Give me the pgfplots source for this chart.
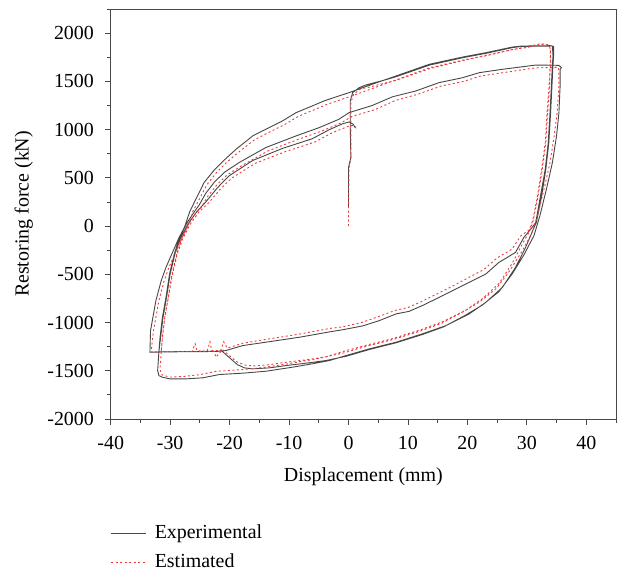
\documentclass[border=0pt]{standalone}
\usepackage{pgfplots}
\pgfplotsset{compat=1.18}
\usepackage{fontspec}
\setmainfont{Liberation Serif}
\definecolor{expcol}{HTML}{474747}
\definecolor{estcol}{HTML}{F03A3A}
\begin{document}
\fontsize{20}{24}\selectfont
\begin{tikzpicture}
\useasboundingbox (0,0) rectangle (619bp,571bp);
\begin{axis}[
  at={(110.7bp,152bp)}, anchor=south west,
  scale only axis, width=505.3bp, height=410bp,
  xmin=-40, xmax=45, ymin=-2000, ymax=2250,
  xtick={-40,-30,...,40}, ytick={-2000,-1500,...,2000},
  minor xtick={-35,-25,...,45}, minor ytick={-1750,-1250,...,2250},
  tick pos=left, tick align=outside,
  major tick length=6bp, minor tick length=4bp,
  every tick/.style={expcol, line width=0.8bp},
  axis line style={expcol, line width=0.9bp},
  /pgf/number format/assume math mode=true,
  /pgf/number format/1000 sep={},
  scaled ticks=false,
  xticklabel style={yshift=-4bp},
  yticklabel style={xshift=-4bp},
  xlabel={Displacement (mm)}, ylabel={Restoring force (kN)},
  xlabel style={yshift=-5bp},
  ylabel style={yshift=1bp},
  legend style={at={(0,-0.253)}, anchor=north west, draw=none, fill=none,
    inner sep=0pt, row sep=8bp, column sep=6bp},
  legend cell align=left,
  legend image code/.code={\draw[#1] (0bp,0bp) -- (35bp,0bp);},
]
\addplot[expcol, line width=0.9bp] coordinates {
(0,200) (0,607) (0.4,710) (0.3,1021) (0.3,1297) (0.7,1383) (1.8,1435) (2.9,1462) (4.0,1480) (6,1512) (8.0,1548) (13.6,1668) (19.2,1745) (23.1,1790) (27.6,1850) (29.2,1862) (34.0,1866)
(34.3,1866) (34.4,1762) (34.3,1677) (34.1,1418) (33.9,1176) (33.6,865) (33.1,590) (32.3,314) (31.5,37) (30.9,-14)
(29.5,-118) (28.1,-273) (25.3,-377) (23.1,-497) (20.3,-583) (17.5,-670) (14.7,-756) (12.4,-825) (10.2,-884) (8.0,-911) (5.2,-980) (2.4,-1035) (-1.0,-1075) (-3.0,-1095) (-8.3,-1153) (-13.9,-1204) (-17.8,-1239) (-20.6,-1290) (-21.7,-1298) (-25.1,-1300) (-29,-1302) (-33.4,-1308)
(-33.3,-1084) (-32.9,-946) (-32.4,-773) (-31.5,-566) (-30.7,-428) (-29.6,-273) (-28.5,-118) (-27.6,-14) (-26.7,150) (-25.5,300) (-24.3,450) (-22.6,580) (-20.8,690) (-18.9,797) (-16.1,935) (-13.9,1004) (-11.1,1090) (-8.8,1176) (-6.1,1245) (-4.1,1297) (-1.6,1349) (0.1,1383) (4.0,1470) (8.0,1556) (13.6,1677) (19.2,1752) (23.1,1797) (27.6,1856) (29.2,1866) (34.0,1870)
(34.5,1860) (34.5,1760) (34.4,1670) (34.2,1418) (34.0,1176) (33.7,865) (33.2,590) (32.5,314) (31.6,37) (30.9,-60)
(29.8,-221) (28.1,-428) (25.9,-635) (23.1,-791) (20.3,-911) (16.4,-1032) (12.4,-1118) (8.0,-1204) (3.5,-1273) (-0.4,-1342) (-3.2,-1394) (-6.1,-1428) (-9.4,-1463) (-13.9,-1505) (-17.8,-1525) (-21.7,-1539) (-24.5,-1573) (-27.3,-1584) (-30.1,-1584) (-31.3,-1567) (-31.9,-1550) (-32.1,-1498) (-31.9,-1308)
(-31.7,-1153) (-31.3,-946) (-30.7,-739) (-30.1,-497) (-29.3,-290) (-28.5,-135) (-27.3,21) (-26.2,124) (-25.1,220) (-24.0,340) (-22.5,460) (-20.8,560) (-18.4,658) (-13.9,814) (-8.8,935) (-4.9,1021) (-1.6,1107) (0.1,1176) (4.0,1250) (7.4,1340) (11.3,1400) (15.2,1486) (19.2,1538) (22.0,1590) (25.9,1625) (31.5,1669) (35.4,1666) (35.8,1642)
(35.6,1625) (35.6,1452) (35.4,1176) (35.0,935) (34.3,658) (33.3,383) (32.2,107) (31.2,-100)
(29.5,-300) (27.5,-500) (25.3,-680) (22.5,-820) (19.5,-930) (16,-1045) (12.4,-1125) (8.0,-1210) (3.5,-1280) (-0.4,-1350) (-3.8,-1394) (-7.2,-1422) (-10.5,-1446) (-13.3,-1470) (-16.1,-1480) (-17.5,-1470) (-18.7,-1436) (-20.1,-1360) (-21.4,-1290) (-22,-1300) (-26,-1302) (-31.9,-1305)
(-31.6,-1153) (-31.2,-946) (-30.6,-739) (-30.0,-497) (-29.2,-290) (-28.3,-135) (-27.0,21) (-25.5,150) (-24.0,250) (-22.0,400) (-20.1,520) (-16.1,680) (-11.1,805) (-6.1,905) (-3.2,1000) (-1.0,1060) (0.1,1079) (0.8,1055) (1.1,1021)
};
\addlegendentry{Experimental}
\addplot[estcol, line width=0.9bp, dash pattern=on 2bp off 2.5bp] coordinates {
(0,0) (0,210) (0.1,600) (0.4,710) (0.4,1000) (0.4,1280) (0.9,1370) (2.0,1420) (3.5,1440) (6,1480) (8.0,1510) (13.6,1630) (19.2,1715) (23.1,1770) (27.6,1830) (29.5,1850) (32.3,1890) (33.5,1880)
(33.9,1850) (34.0,1700) (33.7,1418) (33.4,1176) (33.1,865) (32.5,590) (31.8,314) (31.0,60) (30.4,-40)
(29.0,-100) (27.5,-240) (25.0,-330) (22.8,-450) (20.0,-540) (17.3,-630) (14.5,-715) (12.2,-785) (10.0,-845) (7.8,-875) (5.0,-940) (2.2,-1000) (-1.0,-1045) (-3.0,-1060) (-8.3,-1120) (-13.9,-1175) (-17.8,-1215) (-20.4,-1265) (-21.0,-1200) (-21.5,-1290) (-23,-1290) (-23.3,-1200) (-23.8,-1300) (-25.5,-1290) (-25.8,-1220) (-26.3,-1300) (-29,-1300) (-33.2,-1305)
(-33.1,-1250) (-32.8,-1084) (-32.4,-946) (-31.9,-773) (-31.0,-566) (-30.2,-428) (-29.1,-273) (-28.0,-118) (-27.1,-14) (-26.2,150) (-25.0,290) (-23.8,430) (-22.2,555) (-20.4,665) (-18.6,760) (-15.8,895) (-13.6,965) (-10.8,1050) (-8.5,1135) (-5.8,1205) (-3.8,1257) (-1.3,1310) (0.4,1345) (4.0,1425) (8.0,1515) (13.6,1640) (19.2,1720) (23.1,1765) (27.6,1830) (30,1850) (32.5,1885) (33.8,1875)
(34.0,1800) (33.9,1650) (33.8,1418) (33.5,1176) (33.2,865) (32.6,590) (31.9,314) (31.0,37) (30.4,-60)
(29.3,-180) (27.6,-380) (25.4,-590) (22.6,-750) (19.8,-870) (15.9,-990) (11.9,-1080) (7.5,-1165) (3.0,-1235) (-0.9,-1300) (-3.7,-1355) (-6.6,-1390) (-9.9,-1425) (-14.4,-1467) (-18.3,-1490) (-22.2,-1505) (-25.0,-1540) (-27.8,-1560) (-30.1,-1565) (-31.3,-1545) (-31.6,-1520) (-31.7,-1480) (-31.5,-1308)
(-31.3,-1153) (-30.9,-946) (-30.3,-739) (-29.7,-497) (-28.9,-290) (-28.1,-135) (-26.9,21) (-25.8,124) (-24.7,200) (-23.6,315) (-22.1,430) (-20.4,530) (-18.0,625) (-13.5,780) (-8.4,900) (-4.5,985) (-1.2,1070) (0.5,1135) (4.4,1205) (7.8,1300) (11.6,1365) (15.5,1450) (19.4,1500) (22.2,1555) (26.0,1590) (31.5,1640) (35.3,1645)
(35.4,1600) (35.4,1452) (35.1,1176) (34.6,935) (33.9,658) (32.9,383) (31.8,107) (30.8,-80)
(29.1,-270) (27.1,-465) (24.9,-645) (22.1,-785) (19.1,-895) (15.6,-1010) (12.0,-1090) (7.6,-1175) (3.1,-1245) (-0.8,-1315) (-4.2,-1360) (-7.6,-1390) (-10.9,-1415) (-13.7,-1440) (-16.1,-1450) (-17.5,-1440) (-18.7,-1410) (-20.1,-1340) (-21.2,-1280) (-22.3,-1360) (-22.6,-1300) (-26,-1300) (-31.5,-1300)
(-31.3,-1153) (-30.9,-946) (-30.3,-739) (-29.6,-497) (-28.8,-290) (-27.9,-135) (-26.6,21) (-25.1,150) (-23.6,235) (-21.6,380) (-19.7,495) (-15.7,650) (-10.7,770) (-5.7,870) (-2.8,965) (-0.6,1020) (0.5,1045) (1.2,1030) (1.3,990)
};
\addlegendentry{Estimated}
\end{axis}
\end{tikzpicture}
\end{document}
